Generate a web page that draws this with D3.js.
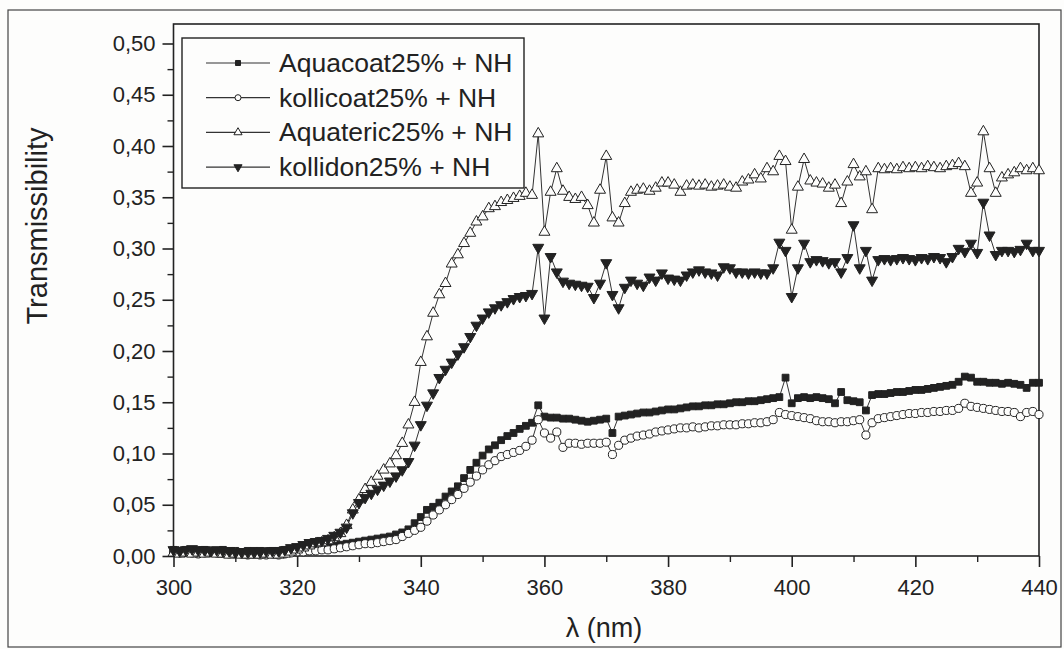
<!DOCTYPE html>
<html>
<head>
<meta charset="utf-8">
<script src="https://cdn.jsdelivr.net/npm/d3@7"></script>
<style>
  body { margin: 0; background: #fdfdfc; }
  svg { display: block; font-family: "Liberation Sans", Arial, sans-serif; }
</style>
</head>
<body>
<div id="chart"></div>
<script>
// wavelength grid (nm), one reading per nm
const wavelengths = d3.range(300, 441);

const seriesNames = ["Aquacoat25% + NH", "kollicoat25% + NH", "Aquateric25% + NH", "kollidon25% + NH"];

// Aquacoat (filled squares)
const aquacoat = [
  0.006,0.005,0.006,0.006,0.005,0.006,0.005,0.005,0.006,0.005,0.005,0.004,0.005,0.005,0.005,0.004,0.005,0.005,0.006,
  0.006,0.006,0.007,0.007,0.008,0.008,0.009,0.010,0.011,0.012,0.013,0.014,0.015,0.016,0.017,0.018,0.019,0.021,0.023,0.026,
  0.032,0.038,0.045,0.048,0.052,0.058,0.063,0.068,0.076,0.084,0.091,0.098,0.104,0.108,0.113,0.117,0.120,0.124,0.127,0.130,
  0.147,0.136,0.135,0.135,0.134,0.134,0.133,0.132,0.131,0.132,0.133,0.134,0.120,0.136,0.137,0.138,0.139,0.140,0.140,0.141,
  0.142,0.143,0.143,0.144,0.145,0.146,0.146,0.147,0.147,0.148,0.148,0.149,0.150,0.150,0.151,0.151,0.152,0.153,0.154,0.155,
  0.174,0.149,0.154,0.155,0.154,0.155,0.154,0.153,0.149,0.160,0.152,0.151,0.150,0.142,0.157,0.158,0.158,0.159,0.160,0.160,
  0.161,0.162,0.162,0.163,0.164,0.165,0.166,0.167,0.170,0.175,0.174,0.170,0.170,0.169,0.169,0.168,0.169,0.168,0.167,0.164,
  0.169,0.169
];

// kollicoat (open circles)
const kollicoat = [
  0.004,0.003,0.004,0.003,0.002,0.003,0.004,0.003,0.003,0.002,0.002,0.002,0.001,0.002,0.001,0.001,0.002,0.001,0.002,
  0.003,0.004,0.004,0.005,0.005,0.006,0.006,0.007,0.008,0.009,0.010,0.011,0.012,0.012,0.013,0.014,0.015,0.016,0.019,0.022,
  0.025,0.028,0.034,0.040,0.045,0.050,0.055,0.060,0.066,0.072,0.078,0.084,0.089,0.093,0.097,0.099,0.101,0.103,0.107,0.113,
  0.133,0.120,0.115,0.121,0.106,0.110,0.110,0.109,0.110,0.110,0.110,0.111,0.099,0.108,0.113,0.115,0.117,0.118,0.119,0.121,
  0.122,0.123,0.124,0.125,0.125,0.126,0.125,0.126,0.127,0.127,0.128,0.128,0.128,0.129,0.129,0.130,0.130,0.131,0.133,0.140,
  0.138,0.137,0.136,0.135,0.134,0.132,0.131,0.131,0.130,0.131,0.131,0.132,0.133,0.118,0.130,0.134,0.135,0.136,0.137,0.138,
  0.139,0.139,0.140,0.140,0.141,0.141,0.142,0.142,0.144,0.149,0.146,0.145,0.144,0.143,0.142,0.141,0.141,0.140,0.136,0.140,
  0.141,0.138
];

// Aquateric (open up-triangles)
const aquateric = [
  0.003,0.002,0.003,0.002,0.003,0.002,0.003,0.002,0.002,0.001,0.002,0.001,0.001,0.001,0.001,0.002,0.001,0.001,0.002,
  0.004,0.006,0.008,0.010,0.012,0.013,0.015,0.018,0.022,0.030,0.045,0.055,0.065,0.072,0.078,0.084,0.090,0.098,0.110,0.128,
  0.150,0.189,0.214,0.237,0.255,0.266,0.285,0.294,0.305,0.315,0.326,0.331,0.339,0.341,0.345,0.347,0.349,0.351,0.354,0.352,
  0.412,0.316,0.355,0.378,0.356,0.350,0.348,0.350,0.342,0.325,0.357,0.390,0.330,0.325,0.344,0.355,0.357,0.358,0.356,0.359,
  0.364,0.364,0.362,0.355,0.361,0.362,0.361,0.362,0.360,0.361,0.362,0.360,0.359,0.365,0.367,0.372,0.368,0.378,0.375,0.390,
  0.385,0.318,0.360,0.387,0.366,0.364,0.363,0.359,0.362,0.344,0.365,0.382,0.370,0.375,0.338,0.378,0.377,0.378,0.377,0.379,
  0.378,0.379,0.378,0.380,0.379,0.378,0.380,0.381,0.383,0.380,0.354,0.364,0.414,0.378,0.354,0.369,0.372,0.374,0.378,0.376,
  0.378,0.376
];

// kollidon (filled down-triangles)
const kollidon = [
  0.006,0.005,0.006,0.007,0.006,0.006,0.005,0.006,0.005,0.005,0.004,0.004,0.004,0.004,0.004,0.005,0.005,0.005,0.006,
  0.008,0.009,0.011,0.013,0.014,0.015,0.017,0.020,0.023,0.028,0.042,0.052,0.057,0.061,0.065,0.069,0.073,0.078,0.084,0.092,
  0.108,0.128,0.147,0.159,0.174,0.182,0.189,0.197,0.204,0.214,0.225,0.232,0.238,0.242,0.245,0.248,0.251,0.253,0.254,0.256,
  0.301,0.232,0.292,0.277,0.268,0.266,0.265,0.264,0.263,0.252,0.266,0.286,0.255,0.242,0.262,0.269,0.266,0.264,0.272,0.269,
  0.276,0.271,0.270,0.269,0.274,0.277,0.279,0.277,0.276,0.274,0.282,0.281,0.277,0.277,0.276,0.277,0.276,0.276,0.281,0.306,
  0.298,0.253,0.281,0.305,0.287,0.289,0.288,0.286,0.287,0.277,0.291,0.323,0.281,0.298,0.269,0.289,0.290,0.289,0.290,0.291,
  0.290,0.289,0.291,0.290,0.292,0.291,0.287,0.292,0.300,0.297,0.305,0.296,0.345,0.313,0.294,0.298,0.298,0.297,0.299,0.305,
  0.298,0.298
];

const xTicks = [300, 320, 340, 360, 380, 400, 420, 440];
const yTicks = [0, 0.05, 0.10, 0.15, 0.20, 0.25, 0.30, 0.35, 0.40, 0.45, 0.50];

const W = 1064, H = 649;
const ink = "#222";
const paper = "#fdfdfc";

const svg = d3.select("#chart").append("svg")
  .attr("width", W)
  .attr("height", H);

// outer border of the scanned figure
svg.append("rect")
  .attr("x", 8).attr("y", 10)
  .attr("width", 1053).attr("height", 637)
  .attr("fill", "none").attr("stroke", "#444").attr("stroke-width", 1.2);

const x = d3.scaleLinear().domain([300, 440]).range([173.5, 1039]);
const y = d3.scaleLinear().domain([0, 0.5]).range([556, 43.5]);
const plotTop = 24;

// plot frame
svg.append("rect")
  .attr("x", x(300)).attr("y", plotTop)
  .attr("width", x(440) - x(300)).attr("height", y(0) - plotTop)
  .attr("fill", "none").attr("stroke", ink).attr("stroke-width", 1.6);

const fmt = d => d3.format(".2f")(d).replace(".", ",");

// x axis: minor then major
svg.append("g")
  .attr("transform", "translate(0," + y(0) + ")")
  .call(d3.axisBottom(x).tickValues(d3.range(310, 440, 20)).tickSize(6).tickFormat(""))
  .call(g => g.select(".domain").remove())
  .selectAll("line").attr("stroke", ink).attr("stroke-width", 1.4);

svg.append("g")
  .attr("transform", "translate(0," + y(0) + ")")
  .call(d3.axisBottom(x).tickValues(xTicks).tickSize(11).tickPadding(12))
  .call(g => g.select(".domain").remove())
  .call(g => g.selectAll("line").attr("stroke", ink).attr("stroke-width", 1.6))
  .selectAll("text")
    .attr("font-size", 22)
    .attr("fill", ink)
    .attr("font-family", "Liberation Sans, Arial, sans-serif");

// y axis
svg.append("g")
  .attr("transform", "translate(" + x(300) + ",0)")
  .call(d3.axisLeft(y).tickValues(d3.range(0.025, 0.5, 0.05)).tickSize(6).tickFormat(""))
  .call(g => g.select(".domain").remove())
  .selectAll("line").attr("stroke", ink).attr("stroke-width", 1.4);

svg.append("g")
  .attr("transform", "translate(" + x(300) + ",0)")
  .call(d3.axisLeft(y).tickValues(yTicks).tickSize(11).tickPadding(7).tickFormat(fmt))
  .call(g => g.select(".domain").remove())
  .call(g => g.selectAll("line").attr("stroke", ink).attr("stroke-width", 1.6))
  .selectAll("text")
    .attr("font-size", 22)
    .attr("fill", ink)
    .attr("font-family", "Liberation Sans, Arial, sans-serif");

// axis titles
svg.append("text")
  .attr("transform", "translate(47,226) rotate(-90)")
  .attr("text-anchor", "middle")
  .attr("font-size", 29)
  .attr("fill", ink)
  .text("Transmissibility");

svg.append("text")
  .attr("x", 604).attr("y", 637)
  .attr("text-anchor", "middle")
  .attr("font-size", 27)
  .attr("fill", ink)
  .text("λ (nm)");

// series
const series = [
  {name: seriesNames[0], values: aquacoat,  symbol: d3.symbolSquare,   size: 46, fill: ink,   rot: 0},
  {name: seriesNames[1], values: kollicoat, symbol: d3.symbolCircle,   size: 52, fill: paper, rot: 0},
  {name: seriesNames[2], values: aquateric, symbol: d3.symbolTriangle, size: 52, fill: paper, rot: 0},
  {name: seriesNames[3], values: kollidon,  symbol: d3.symbolTriangle, size: 52, fill: ink,   rot: 180}
];

const line = d3.line()
  .x((d, i) => x(wavelengths[i]))
  .y(d => y(d));

const plot = svg.append("g");

series.forEach(s => {
  plot.append("path")
    .datum(s.values)
    .attr("d", line)
    .attr("fill", "none")
    .attr("stroke", "#333")
    .attr("stroke-width", 1);
});

series.forEach(s => {
  const sym = d3.symbol().type(s.symbol).size(s.size);
  plot.selectAll(null)
    .data(s.values)
    .enter()
    .append("path")
    .attr("d", sym)
    .attr("transform", (d, i) => "translate(" + x(wavelengths[i]) + "," + y(d) + ") rotate(" + s.rot + ")")
    .attr("fill", s.fill)
    .attr("stroke", ink)
    .attr("stroke-width", 1);
});

// legend
const legend = svg.append("g");
legend.append("rect")
  .attr("x", 182).attr("y", 38)
  .attr("width", 342).attr("height", 150)
  .attr("fill", paper)
  .attr("stroke", ink).attr("stroke-width", 1.4);

series.forEach((s, i) => {
  const cy = 63 + i * 34.7;
  legend.append("line")
    .attr("x1", 206).attr("x2", 270)
    .attr("y1", cy).attr("y2", cy)
    .attr("stroke", "#333").attr("stroke-width", 1.2);
  legend.append("path")
    .attr("d", d3.symbol().type(s.symbol).size(s.size * 0.55))
    .attr("transform", "translate(238," + cy + ") rotate(" + s.rot + ")")
    .attr("fill", s.fill)
    .attr("stroke", ink).attr("stroke-width", 1);
  legend.append("text")
    .attr("x", 279).attr("y", cy + 9)
    .attr("font-size", 26.5)
    .attr("fill", ink)
    .text(s.name);
});
</script>
</body>
</html>
